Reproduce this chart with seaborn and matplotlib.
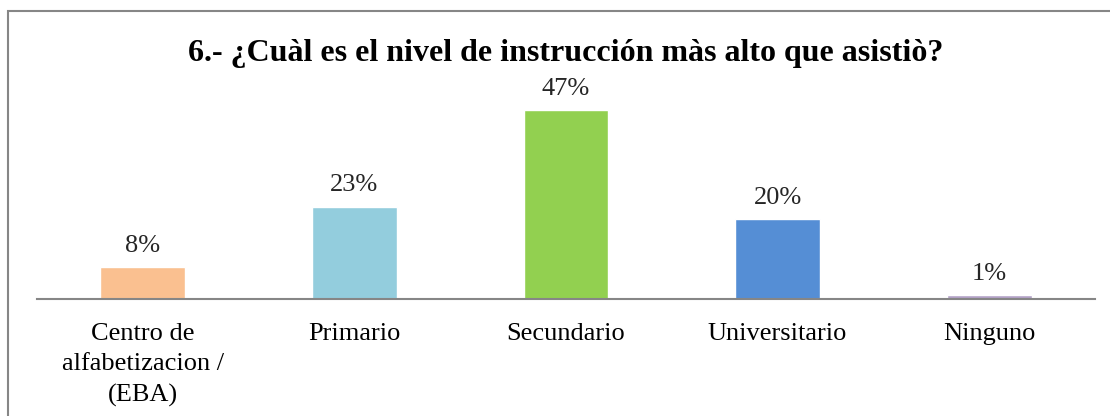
import matplotlib
matplotlib.use("Agg")
import matplotlib.pyplot as plt
from matplotlib.patches import Rectangle
import pandas as pd
import seaborn as sns

CATEGORIES = ["Centro de\nalfabetizacion /\n(EBA)", "Primario", "Secundario", "Universitario", "Ninguno"]
PERCENTS = [8, 23, 47, 20, 1]
COLORS = ["#FAC090", "#93CDDD", "#92D050", "#558ED5", "#B3A2C7"]
TITLE = "6.- ¿Cuàl es el nivel de instrucción màs alto que asistiò?"

sns.set_theme(style="white")
plt.rcParams["font.family"] = ["Liberation Serif", "DejaVu Serif"]

df = pd.DataFrame({"nivel": CATEGORIES, "pct": PERCENTS})

fig = plt.figure(figsize=(11.1, 4.16), dpi=100)
ax = fig.add_axes([37 / 1110, 1 - 299 / 416, (1095 - 37) / 1110, (299 - 98) / 416])
sns.barplot(data=df, x="nivel", y="pct", hue="nivel", palette=COLORS,
            width=0.4, legend=False, ax=ax, saturation=1)

for i, v in enumerate(PERCENTS):
    ax.text(i, v + 2.5, f"{v}%", ha="center", va="bottom", fontsize=19, color="#262626")

ax.set_ylim(0, 50)
ax.set_xlim(-0.5, len(CATEGORIES) - 0.5)
ax.set_yticks([])
ax.set_xlabel("")
ax.set_ylabel("")
for side in ["top", "right", "left"]:
    ax.spines[side].set_visible(False)
ax.spines["bottom"].set_color("#868686")
ax.spines["bottom"].set_linewidth(1.5)
ax.tick_params(axis="x", length=0, pad=17, labelsize=19, colors="black")
for lbl in ax.get_xticklabels():
    lbl.set_linespacing(1.5)

# title is centred over the plot area, not the figure
ax.text(0.5, 1 + (98 - 54) / (299 - 98), TITLE, transform=ax.transAxes,
        ha="center", va="center", fontsize=23, fontweight="bold", color="black")

# outer chart border (right and bottom edges run off the picture)
fig.patches.append(Rectangle((8 / 1110, -0.1), 1.2, 1 - 11 / 416 + 0.1,
                             transform=fig.transFigure, fill=False,
                             edgecolor="#868686", linewidth=1.5))

fig.savefig("out.png", dpi=100)
